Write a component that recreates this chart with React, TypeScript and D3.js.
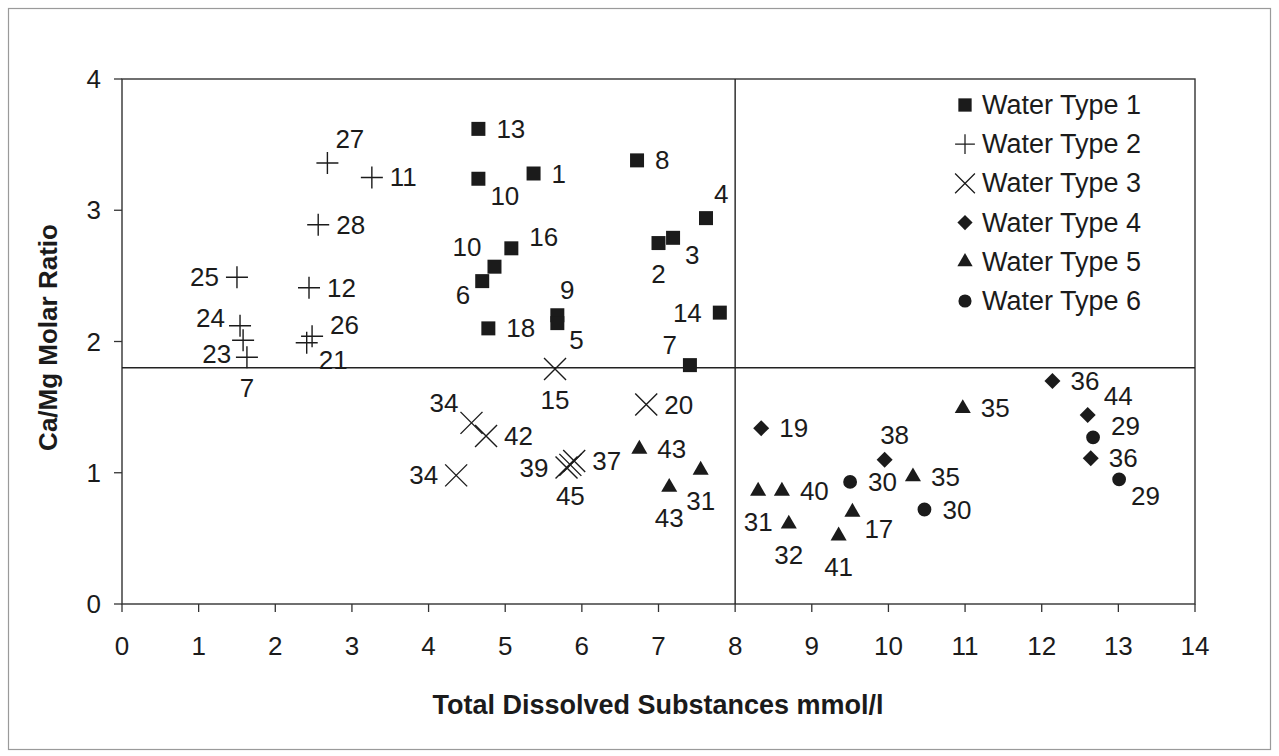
import React from "react";
import * as d3 from "d3";

// ---- data ----
const xTicks = [0, 1, 2, 3, 4, 5, 6, 7, 8, 9, 10, 11, 12, 13, 14];
const yTicks = [0, 1, 2, 3, 4];
const legendLabels = ["Water Type 1", "Water Type 2", "Water Type 3", "Water Type 4", "Water Type 5", "Water Type 6"];
const xTitle = "Total Dissolved Substances mmol/l";
const yTitle = "Ca/Mg Molar Ratio";
const dividerX = [8];
const dividerY = [1.8];

const t1X = [4.65, 4.65, 5.37, 6.72, 7.62, 7.19, 7.0, 5.08, 4.86, 4.7, 5.68, 5.68, 4.78, 7.8, 7.41];
const t1Y = [3.62, 3.24, 3.28, 3.38, 2.94, 2.79, 2.75, 2.71, 2.57, 2.46, 2.2, 2.14, 2.1, 2.22, 1.82];
const t1Lab = ["13", "10", "1", "8", "4", "3", "2", "16", "10", "6", "9", "5", "18", "14", "7"];
const t1Pos = ["r", "br", "r", "r", "ar", "br", "b", "ur", "al", "bl", "a", "br", "r", "l", "al"];

const t2X = [2.68, 3.26, 2.56, 1.5, 2.44, 1.54, 1.58, 1.63, 2.48, 2.41];
const t2Y = [3.36, 3.25, 2.89, 2.49, 2.41, 2.12, 2.01, 1.88, 2.04, 1.99];
const t2Lab = ["27", "11", "28", "25", "12", "24", "23", "7", "26", "21"];
const t2Pos = ["ar", "r", "r", "l", "r", "ul", "bl", "b", "ur", "br"];

const t3X = [5.65, 6.84, 4.56, 4.75, 4.36, 5.8, 5.9, 5.85];
const t3Y = [1.79, 1.52, 1.38, 1.28, 0.98, 1.04, 1.09, 1.06];
const t3Lab = ["15", "20", "34", "42", "34", "39", "37", "45"];
const t3Pos = ["b", "r", "al", "r", "l", "l", "r", "b"];

const t4X = [8.34, 9.95, 12.14, 12.6, 12.64];
const t4Y = [1.34, 1.1, 1.7, 1.44, 1.11];
const t4Lab = ["19", "38", "36", "44", "36"];
const t4Pos = ["r", "a", "r", "ar2", "r"];

const t5X = [6.75, 7.14, 7.55, 10.97, 10.32, 8.3, 8.61, 8.7, 9.53, 9.35];
const t5Y = [1.18, 0.89, 1.02, 1.49, 0.97, 0.86, 0.86, 0.61, 0.7, 0.52];
const t5Lab = ["43", "43", "31", "35", "35", "31", "40", "32", "17", "41"];
const t5Pos = ["r", "b", "b", "r", "r", "b", "r", "b", "br", "b"];

const t6X = [9.5, 10.47, 12.67, 13.01];
const t6Y = [0.93, 0.72, 1.27, 0.95];
const t6Lab = ["30", "30", "29", "29"];
const t6Pos = ["r", "r", "ur", "br"];

// ---- layout ----
const W = 1279;
const H = 756;
const plot = { left: 122, right: 1195, top: 79, bottom: 604 };
const FONT = "'Liberation Sans', Arial, Helvetica, sans-serif";
const INK = "#1b1b1b";

const placements: Record<string, { anchor: string; dx: number; dy: number }> = {
  r: { anchor: "start", dx: 18, dy: 9 },
  l: { anchor: "end", dx: -18, dy: 9 },
  a: { anchor: "middle", dx: 10, dy: -16 },
  b: { anchor: "middle", dx: 0, dy: 40 },
  ar: { anchor: "start", dx: 8, dy: -15 },
  ar2: { anchor: "start", dx: 16, dy: -10 },
  ur: { anchor: "start", dx: 18, dy: -2 },
  ul: { anchor: "end", dx: -15, dy: 1 },
  br: { anchor: "start", dx: 12, dy: 26 },
  al: { anchor: "end", dx: -13, dy: -11 },
  bl: { anchor: "end", dx: -12, dy: 23 },
};

const shapes = ["square", "plus", "cross", "diamond", "triangle", "circle"];

function markerPath(shape: string): string {
  switch (shape) {
    case "square":
      return d3.symbol(d3.symbolSquare, 196)() as string;
    case "plus":
      return "M-11,0H11M0,-11V11";
    case "cross":
      return "M-11,-11L11,11M-11,11L11,-11";
    case "diamond":
      return "M0,-8L8,0L0,8L-8,0Z";
    case "triangle":
      return d3.symbol(d3.symbolTriangle, 112)() as string;
    default:
      return d3.symbol(d3.symbolCircle, 150)() as string;
  }
}

export default function App() {
  const x = d3.scaleLinear().domain([0, 14]).range([plot.left, plot.right]);
  const y = d3.scaleLinear().domain([0, 4]).range([plot.bottom, plot.top]);

  const series = [
    { xs: t1X, ys: t1Y, labs: t1Lab, pos: t1Pos },
    { xs: t2X, ys: t2Y, labs: t2Lab, pos: t2Pos },
    { xs: t3X, ys: t3Y, labs: t3Lab, pos: t3Pos },
    { xs: t4X, ys: t4Y, labs: t4Lab, pos: t4Pos },
    { xs: t5X, ys: t5Y, labs: t5Lab, pos: t5Pos },
    { xs: t6X, ys: t6Y, labs: t6Lab, pos: t6Pos },
  ].map((s, i) => ({ ...s, shape: shapes[i], name: legendLabels[i] }));

  const isLine = (shape: string) => shape === "plus" || shape === "cross";

  const legendX = 965;
  const legendY0 = 105;
  const legendStep = 39.2;

  return (
    <svg
      width={W}
      height={H}
      style={{ position: "absolute", left: 0, top: 0, background: "#fff" }}
      fontFamily={FONT}
    >
      <rect x={8.5} y={8.5} width={1262} height={741} fill="#fff" stroke="#9a9a9a" strokeWidth={1.2} />

      {/* plot frame */}
      <rect
        x={plot.left}
        y={plot.top}
        width={plot.right - plot.left}
        height={plot.bottom - plot.top}
        fill="none"
        stroke="#333"
        strokeWidth={1.4}
      />
      {/* divider lines */}
      {dividerX.map((v) => (
        <line key={"dx" + v} x1={x(v)} x2={x(v)} y1={plot.top} y2={plot.bottom} stroke="#222" strokeWidth={1.4} />
      ))}
      {dividerY.map((v) => (
        <line key={"dy" + v} x1={plot.left} x2={plot.right} y1={y(v)} y2={y(v)} stroke="#222" strokeWidth={1.4} />
      ))}

      {/* y axis ticks */}
      {yTicks.map((t) => (
        <g key={"yt" + t}>
          <line x1={plot.left - 8} x2={plot.left} y1={y(t)} y2={y(t)} stroke="#333" strokeWidth={1.3} />
          <text x={plot.left - 21} y={y(t) + 9} textAnchor="end" fontSize={26} fill={INK}>
            {t}
          </text>
        </g>
      ))}
      {/* x axis ticks */}
      {xTicks.map((t) => (
        <g key={"xt" + t}>
          <line x1={x(t)} x2={x(t)} y1={plot.bottom} y2={plot.bottom + 8} stroke="#333" strokeWidth={1.3} />
          <text x={x(t)} y={655} textAnchor="middle" fontSize={26} fill={INK}>
            {t}
          </text>
        </g>
      ))}

      {/* axis titles */}
      <text x={658} y={714} textAnchor="middle" fontSize={27} fontWeight="bold" fill={INK}>
        {xTitle}
      </text>
      <text
        transform={`translate(57,${(plot.top + plot.bottom) / 2 - 4}) rotate(-90)`}
        textAnchor="middle"
        fontSize={26}
        fontWeight="bold"
        fill={INK}
      >
        {yTitle}
      </text>

      {/* points */}
      {series.map((s, si) => (
        <g key={"s" + si}>
          {s.xs.map((xv, i) => {
            const px = x(xv);
            const py = y(s.ys[i]);
            const p = placements[s.pos[i]];
            return (
              <g key={i}>
                <path
                  d={markerPath(s.shape)}
                  transform={`translate(${px},${py})`}
                  fill={isLine(s.shape) ? "none" : INK}
                  stroke={INK}
                  strokeWidth={isLine(s.shape) ? 1.4 : 0}
                />
                <text x={px + p.dx} y={py + p.dy} textAnchor={p.anchor} fontSize={26} fill={INK}>
                  {s.labs[i]}
                </text>
              </g>
            );
          })}
        </g>
      ))}

      {/* legend */}
      {series.map((s, i) => {
        const ly = legendY0 + i * legendStep;
        return (
          <g key={"lg" + i}>
            <path
              d={markerPath(s.shape)}
              transform={`translate(${legendX},${ly}) scale(${isLine(s.shape) ? 0.9 : 0.95})`}
              fill={isLine(s.shape) ? "none" : INK}
              stroke={INK}
              strokeWidth={isLine(s.shape) ? 1.4 : 0}
            />
            <text x={982} y={ly + 9} fontSize={27} fill={INK}>
              {s.name}
            </text>
          </g>
        );
      })}
    </svg>
  );
}
